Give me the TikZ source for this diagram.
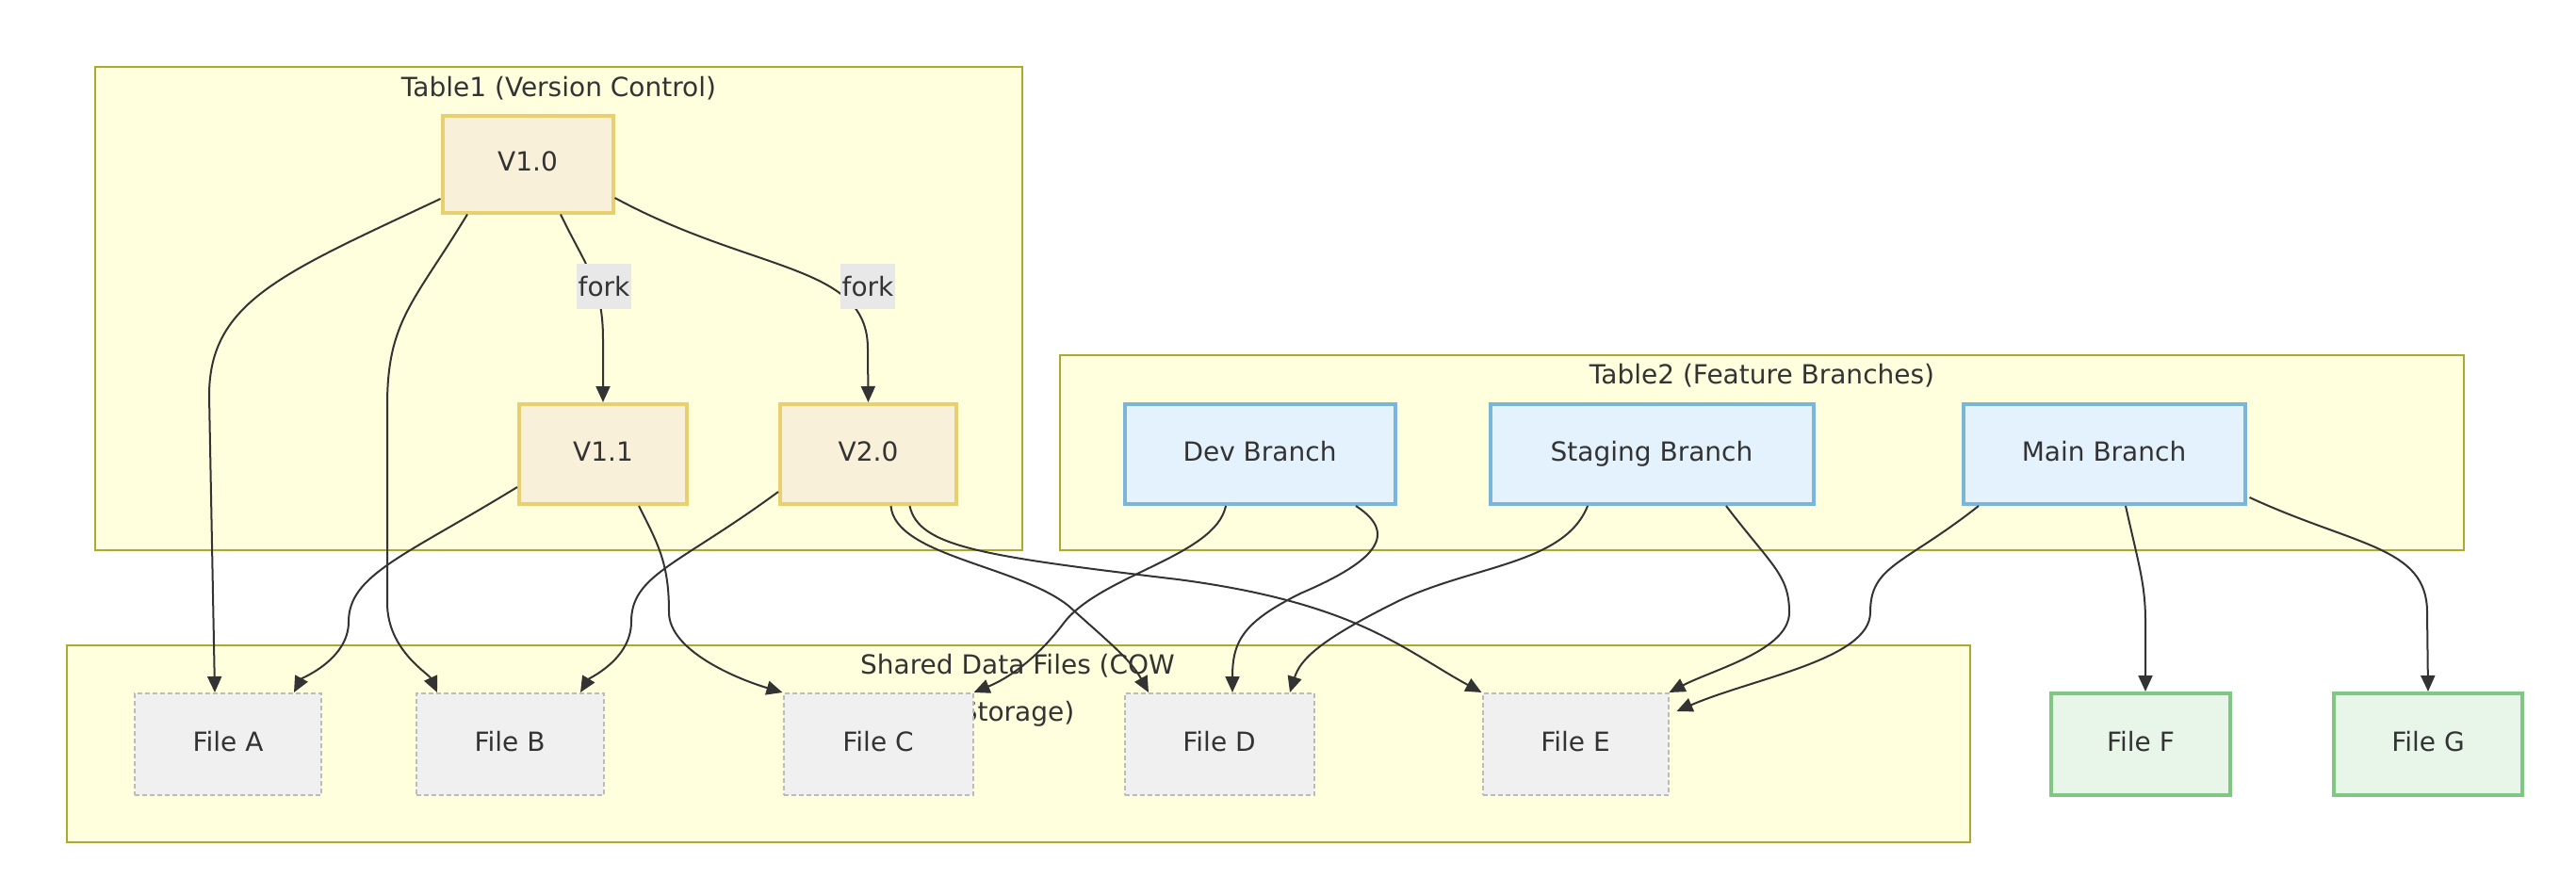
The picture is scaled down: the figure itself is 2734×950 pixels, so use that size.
\documentclass[tikz,border=0pt]{standalone}
\usepackage{fontspec}
\setmainfont{DejaVu Sans}
\usetikzlibrary{positioning,calc,arrows.meta}

\definecolor{clusterfill}{HTML}{FFFFDE}
\definecolor{clusterline}{HTML}{AAAA33}
\definecolor{versionfill}{HTML}{F9F0DA}
\definecolor{versionline}{HTML}{E8CF70}
\definecolor{branchfill}{HTML}{E3F2FD}
\definecolor{branchline}{HTML}{7AB6DA}
\definecolor{filefill}{HTML}{F0F0F0}
\definecolor{fileline}{HTML}{BBBBBB}
\definecolor{mainfill}{HTML}{E8F5E9}
\definecolor{mainline}{HTML}{81C784}
\definecolor{labelfill}{HTML}{E8E8E8}
\definecolor{textgray}{HTML}{333333}

\tikzset{
  box/.style     = {text height=21pt, text depth=6pt},
  cluster/.style = {draw=clusterline, fill=clusterfill, line width=2pt},
  version/.style = {box, draw=versionline, fill=versionfill, line width=4pt,
                    minimum height=106pt},
  branch/.style  = {box, draw=branchline, fill=branchfill, line width=4pt,
                    minimum height=106pt},
  shared/.style  = {box, draw=fileline, fill=filefill, line width=2pt,
                    dash pattern=on 5pt off 3pt, minimum height=108pt},
  outfile/.style = {box, draw=mainline, fill=mainfill, line width=4pt,
                    minimum height=108pt},
  forklabel/.style = {fill=labelfill, inner xsep=1.5pt, minimum height=48pt},
  link/.style    = {draw=textgray, line width=2pt,
                    -{Triangle[length=17pt,width=15pt]}},
}

\begin{document}
\begin{tikzpicture}[x=1pt, y=-1pt, font=\fontsize{28}{50}\selectfont, text=textgray]
  \useasboundingbox (0,0) rectangle (2734,950);

  % subgraphs
  \draw[cluster] (101,71) rectangle (1085,584);
  \draw[cluster] (1125,377) rectangle (2615,584);
  \draw[cluster] (71,685) rectangle (2091,894);
  \node (t1) at (593,94) {Table1 (Version Control)};
  \node (t2) at (1870,399) {Table2 (Feature Branches)};
  \node[align=center] (t3) at (1080,733) {Shared Data Files (COW\\Storage)};

  % versions
  \node[version, minimum width=181pt, minimum height=103pt] (v10) at (560,174) {V1.0};
  \node[version, minimum width=178pt] (v11) at (640,482) {V1.1};
  \node[version, minimum width=187pt, right = 95pt of v11] (v20) {V2.0};

  % branches
  \node[branch, minimum width=287pt] (dev) at (1337,482) {Dev Branch};
  \node[branch, minimum width=343pt] (stg) at (1753,482) {Staging Branch};
  \node[branch, minimum width=299pt] (main) at (2233,482) {Main Branch};

  % files
  \node[shared, minimum width=198pt] (fa) at (242,790) {File A};
  \node[shared, minimum width=199pt] (fb) at (541,790) {File B};
  \node[shared, minimum width=201pt] (fc) at (932,790) {File C};
  \node[shared, minimum width=201pt] (fd) at (1294,790) {File D};
  \node[shared, minimum width=197pt] (fe) at (1672,790) {File E};
  \node[outfile, minimum width=190pt] (ff) at (2272,790) {File F};
  \node[outfile, minimum width=200pt] (fg) at (2577,790) {File G};

  % edges
  \draw[link] ($(v10.west)+(0,37)$) .. controls (300,290) and (222,320) .. (222,420)
    -- ($(fa.north)+(-14,0)$);
  \draw[link] ($(v10.south)+(-64,0)$) .. controls (440,320) and (411,340) .. (411,430)
    -- (411,640) .. controls (411,690) and (455,715) .. ($(fb.north)+(-77,0)$);
  \draw[link] ($(v10.south)+(35,0)$) .. controls (620,280) and (640,300) .. (640,360)
    -- (v11.north);
  \draw[link] ($(v10.east)+(0,36)$) .. controls (800,290) and (921,280) .. (921,370)
    -- (v20.north);

  \draw[link] ($(v11.west)+(0,35)$) .. controls (430,590) and (370,610) .. (370,660)
    .. controls (370,700) and (320,720) .. ($(fa.north)+(70,0)$);
  \draw[link] ($(v11.south)+(38,0)$) .. controls (700,580) and (710,600) .. (710,650)
    .. controls (710,690) and (780,720) .. (fc.north west);

  \draw[link] ($(v20.west)+(0,40)$) .. controls (720,600) and (670,610) .. (670,660)
    .. controls (670,700) and (625,720) .. ($(fb.north)+(75,0)$);
  \draw[link] ($(v20.south)+(24,0)$) .. controls (950,590) and (1080,600) .. (1134,643)
    .. controls (1175,680) and (1200,700) .. ($(fd.north)+(-75,0)$);
  \draw[link] ($(v20.south)+(44,0)$) .. controls (975,580) and (1040,590) .. (1250,615)
    .. controls (1440,640) and (1490,690) .. (fe.north west);

  \draw[link] ($(dev.south)+(-36,0)$) .. controls (1290,590) and (1170,610) .. (1130,660)
    .. controls (1100,700) and (1070,720) .. (fc.north east);
  \draw[link] ($(dev.south)+(102,0)$) .. controls (1490,570) and (1450,600) .. (1380,630)
    .. controls (1320,660) and (1308,680) .. ($(fd.north)+(14,0)$);

  \draw[link] ($(stg.south)+(-68,0)$) .. controls (1660,600) and (1560,600) .. (1480,640)
    .. controls (1400,680) and (1380,700) .. ($(fd.north)+(75,0)$);
  \draw[link] ($(stg.south)+(79,0)$) .. controls (1880,600) and (1899,610) .. (1899,650)
    .. controls (1899,690) and (1820,710) .. (fe.north east);

  \draw[link] ($(main.south)+(-133,0)$) .. controls (2020,600) and (1985,600) .. (1985,650)
    .. controls (1985,700) and (1860,720) .. ($(fe.east)+(8,-35)$);
  \draw[link] ($(main.south)+(23,0)$) .. controls (2270,600) and (2277,620) .. (2277,660)
    -- ($(ff.north)+(5,0)$);
  \draw[link] ($(main.east)+(3,46)$) .. controls (2500,580) and (2576,580) .. (2576,650)
    -- (fg.north);

  % labels
  \node[forklabel] (fork1) at (641,304) {fork};
  \node[forklabel] (fork2) at (921,304) {fork};
\end{tikzpicture}
\end{document}
